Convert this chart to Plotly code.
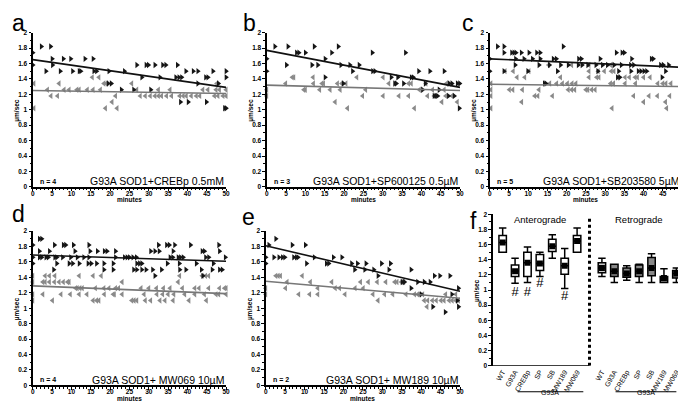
import plotly.graph_objects as go

W, H = 686, 401

# ---- scatter panels: velocity level (um/sec) -> list of minutes ----
a_ante = {1.82: [2.2, 4.6], 1.74: [0],
          1.66: [5.0, 7.9, 9.8, 13.5, 15.6],
          1.58: [0, 5.1, 26.9, 29.3, 29.9, 31.6, 33.6, 34.4, 37.4],
          1.50: [3.4, 7.1, 10.3, 12.0, 12.4, 15.8, 16.5, 19.7, 23.7, 39.6, 41.5, 42.7, 46.6, 50.0],
          1.42: [28.2, 32.9, 37.0, 37.8, 38.5, 44.7, 45.3, 50.0],
          1.34: [19.5, 20.3, 42.7, 48.0],
          1.26: [22.9, 26.1, 30.5],
          1.10: [38.2, 40.2, 44.9],
          1.02: [49.6, 50.0]}
a_retro = {1.42: [15.4, 17.1],
           1.34: [0.3, 6.8, 18.4, 19.0, 25.6, 47.6],
           1.26: [3.8, 8.1, 9.4, 11.4, 12.0, 14.1, 15.6, 17.5, 26.9, 32.5, 35.5, 44.0, 45.3, 47.4, 48.3, 50.0],
           1.18: [4.7, 6.4, 21.4, 27.8, 29.1, 30.4, 31.6, 32.5, 33.3, 34.6, 35.9, 38.0, 38.9, 39.7,
                  41.0, 42.3, 43.2, 47.0, 47.9, 49.2, 50.0],
           1.10: [20.5],
           1.02: [0.3, 18.8, 21.8]}
b_ante = {1.82: [2.1, 5.5, 12.3, 18.5],
          1.74: [7.7, 8.3, 10.0, 16.8, 27.3, 35.9],
          1.66: [0, 15.1],
          1.58: [5.1, 11.7, 13.2, 19.2, 21.5, 23.9],
          1.50: [0, 22.2, 27.4, 28.0, 39.3, 42.2, 45.9],
          1.42: [15.1, 32.2, 33.9, 37.4, 37.9],
          1.34: [19.8, 33.1, 33.5, 35.4, 41.0, 47.2, 47.9, 49.3, 49.9],
          1.26: [40.3, 44.6],
          1.18: [43.3, 43.8, 44.2, 47.0, 48.5],
          1.02: [49.8]}
b_retro = {1.42: [6.6, 7.0, 12.0, 23.3, 30.1],
           1.34: [4.9, 12.1, 14.3, 14.7, 18.3, 19.4, 20.5, 31.6, 36.7, 37.4, 41.2, 46.5],
           1.26: [0, 9.6, 10.0, 13.7, 16.4, 19.0, 25.6, 39.5, 42.9, 45.9],
           1.18: [0, 24.8, 30.1, 34.2, 36.7, 41.6, 43.3, 46.3, 47.9],
           1.10: [17.7, 45.3, 49.3],
           1.02: [20.9, 38.2]}
c_ante = {1.82: [2.0, 3.7, 19.1],
          1.74: [3.7, 5.7, 6.3, 6.8, 8.2, 10.2, 12.2, 13.1, 32.9, 34.4, 35.0],
          1.66: [0, 6.7, 8.9, 11.1, 13.1, 16.5, 17.3, 23.1, 23.8, 28.7, 36.9, 42.0, 42.5, 49.9],
          1.58: [6.6, 12.8, 15.5, 18.4, 20.4, 23.0, 24.0, 25.5, 27.6, 29.3, 30.6, 32.3, 34.2, 36.6,
                 37.4, 44.4, 45.1, 46.5],
          1.50: [0, 3.7, 9.9, 17.6, 28.1, 33.5, 36.7, 38.6, 39.3, 40.1, 40.8, 45.7, 49.5],
          1.42: [33.2, 33.8, 44.8],
          1.34: [14.2, 14.6]}
c_retro = {1.58: [15.3, 21.3, 25.8, 31.5],
           1.50: [4.0, 6.1, 10.2, 25.8, 28.2, 29.8, 31.6, 32.3],
           1.42: [7.1, 9.1, 18.4, 25.8, 27.8, 28.4, 33.5, 35.2, 36.3, 37.8, 38.4, 40.0, 41.7],
           1.34: [0.3, 15.6, 17.4, 18.9, 20.2, 21.4, 22.4, 31.4, 32.2, 35.2, 37.9, 43.7, 45.0, 45.8, 47.1],
           1.26: [0.3, 5.1, 6.0, 8.5, 12.8, 20.4, 21.3, 22.1, 25.0, 25.5, 26.5, 27.4],
           1.18: [0.3, 11.7, 12.5, 16.3, 37.4, 41.4, 43.6, 46.8, 49.9],
           1.10: [8.3, 40.0, 45.7],
           1.02: [0.3, 31.8, 46.0]}
d_ante = {1.90: [1.7, 2.3],
          1.82: [0, 5.6, 7.9, 8.5, 10.5, 14.5, 32.5, 34.6, 35.3, 36.7, 40.8, 48.1],
          1.74: [1.7, 4.3, 10.9, 14.8, 16.7, 18.5, 19.2, 21.4, 30.5, 31.6, 32.7, 36.3, 43.8, 44.4, 48.3],
          1.66: [0, 1.7, 2.3, 3.4, 4.0, 5.7, 6.2, 7.7, 9.8, 11.5, 13.2, 14.5, 21.4, 23.7, 24.4, 25.0,
                 25.9, 26.8, 35.5, 36.2, 37.6, 38.2, 38.9, 44.7, 45.5, 49.8],
          1.58: [0, 6.2, 9.4, 10.3, 12.0, 14.3, 15.1, 16.5, 18.4, 20.8, 26.9, 27.6, 28.2, 34.8, 37.9,
                 42.3, 46.7],
          1.50: [5.4, 18.4, 20.8, 26.1, 26.9, 28.2, 29.3, 31.0, 33.3, 38.0, 39.6, 43.6, 46.4, 48.3, 49.0],
          1.42: [31.6, 44.0]}
d_retro = {1.42: [0, 3.2, 4.3, 5.7, 12.0, 15.6, 17.7, 38.0, 43.8, 44.7, 45.5],
           1.34: [0, 2.6, 3.2, 4.3, 5.6, 6.8, 7.9, 9.0, 9.4, 23.1, 37.6],
           1.26: [11.1, 11.5, 12.2, 12.8, 16.2, 18.4, 19.7, 21.4, 22.2, 28.0, 30.0, 32.0, 33.8, 35.5,
                  38.7, 41.9, 43.0, 45.5, 48.3, 49.6, 50.0],
           1.18: [0, 2.6, 7.3, 9.7, 12.0, 14.0, 18.5, 20.8, 21.1, 23.1, 28.8, 32.1, 33.6, 35.0, 36.5,
                  39.3, 41.9, 44.4, 47.4, 48.1, 50.0],
           1.10: [0, 5.1, 15.6, 16.5, 17.1, 25.6, 26.2, 26.9, 29.1, 30.5, 32.9, 34.2, 36.3, 40.4, 44.9]}
e_ante = {1.90: [2.6],
          1.82: [0.8, 6.8, 10.2],
          1.66: [0, 2.1, 3.4, 4.3, 4.9, 7.2, 7.9, 8.3, 12.5, 17.4, 19.6],
          1.58: [0, 10.5, 15.6, 16.2, 22.1, 23.6, 25.8, 29.8, 32.1],
          1.50: [22.9, 25.5, 27.8, 31.7, 37.4],
          1.42: [28.9, 43.4, 44.8, 47.4],
          1.34: [35.1, 35.7, 39.1, 40.8, 42.3],
          1.26: [37.4, 49.6],
          1.18: [40.0, 47.9],
          1.10: [49.3],
          1.02: [43.0, 49.6],
          0.95: [46.2]}
e_retro = {1.42: [2.6, 3.2, 3.8, 9.4],
           1.34: [5.5, 11.5, 17.0, 24.4, 26.4, 28.7, 30.9, 33.2, 33.8, 34.9, 35.5],
           1.26: [0, 5.1, 13.4, 17.9, 19.0, 23.0, 25.1],
           1.18: [0, 8.5, 11.3, 13.4, 20.4, 27.6, 30.6, 32.7, 36.1, 38.3, 39.1, 39.5, 40.4, 46.3, 48.9],
           1.10: [28.9, 40.8, 41.7, 42.9, 43.9, 45.1, 45.9, 47.2, 48.0, 48.9, 49.6],
           1.02: [41.5]}

# regression lines (value at 0 and 50 min)
fit_minutes = [0, 50]
a_fit_ante, a_fit_retro = [1.65, 1.29], [1.25, 1.21]
b_fit_ante, b_fit_retro = [1.77, 1.29], [1.32, 1.25]
c_fit_ante, c_fit_retro = [1.66, 1.55], [1.33, 1.30]
d_fit_ante, d_fit_retro = [1.69, 1.61], [1.29, 1.19]
e_fit_ante, e_fit_retro = [1.81, 1.22], [1.35, 1.13]

panel_titles = ['G93A SOD1+CREBp 0.5mM', 'G93A SOD1+SP600125 0.5µM', 'G93A SOD1+SB203580 5µM',
                'G93A SOD1+ MW069 10µM', 'G93A SOD1+ MW189 10µM']
panel_n = ['n = 4', 'n = 3', 'n = 5', 'n = 4', 'n = 2']

# ---- panel f box summary ----
groups = ['WT', 'G93A', 'CREBp', 'SP', 'SB', 'MW189', 'MW069']
ante_low = [1.50, 1.09, 1.10, 1.18, 1.42, 1.02, 1.50]
ante_q1 = [1.50, 1.18, 1.18, 1.26, 1.51, 1.21, 1.50]
ante_med = [1.63, 1.25, 1.36, 1.35, 1.58, 1.32, 1.65]
ante_q3 = [1.72, 1.33, 1.50, 1.47, 1.67, 1.42, 1.72]
ante_high = [1.82, 1.42, 1.57, 1.50, 1.73, 1.55, 1.82]
retro_low = [1.18, 1.10, 1.13, 1.10, 1.10, 1.10, 1.10]
retro_q1 = [1.23, 1.18, 1.17, 1.18, 1.19, 1.10, 1.16]
retro_med = [1.29, 1.25, 1.22, 1.25, 1.29, 1.16, 1.22]
retro_q3 = [1.36, 1.34, 1.29, 1.33, 1.43, 1.18, 1.26]
retro_high = [1.42, 1.34, 1.32, 1.34, 1.48, 1.28, 1.29]
sig_groups = [1, 2, 3, 5]
sig_y = [0.97, 0.97, 1.08, 0.91]

ante_pos = list(range(7))
retro_pos = [p + 8 for p in range(7)]


def flat(d):
    xs, ys = [], []
    for v, mins in d.items():
        for m in mins:
            xs.append(m)
            ys.append(v)
    return xs, ys


def px(x):
    return x / W


def py(y):
    return 1 - y / H


fig = go.Figure()

scatter_panels = [
    (a_ante, a_retro, a_fit_ante, a_fit_retro),
    (b_ante, b_retro, b_fit_ante, b_fit_retro),
    (c_ante, c_retro, c_fit_ante, c_fit_retro),
    (d_ante, d_retro, d_fit_ante, d_fit_retro),
    (e_ante, e_retro, e_fit_ante, e_fit_retro),
]
# pixel boxes of plot areas: (left, right, top, bottom)
boxes = [(23, 218, 21, 178), (259, 454, 21, 178), (484, 678, 21, 178),
         (23, 218, 223, 380), (258, 454, 223, 380), (487, 683, 206, 360)]

for i, (ante, retro, fa, fr) in enumerate(scatter_panels):
    xa = 'x' if i == 0 else f'x{i+1}'
    ya = 'y' if i == 0 else f'y{i+1}'
    x, y = flat(retro)
    fig.add_trace(go.Scatter(x=x, y=y, mode='markers', xaxis=xa, yaxis=ya, cliponaxis=False,
                             marker=dict(symbol='triangle-left', size=5.5, color='#8a8a8a')))
    x, y = flat(ante)
    fig.add_trace(go.Scatter(x=x, y=y, mode='markers', xaxis=xa, yaxis=ya, cliponaxis=False,
                             marker=dict(symbol='triangle-right', size=5.5, color='#151515')))
    fig.add_trace(go.Scatter(x=fit_minutes, y=fr, mode='lines', xaxis=xa, yaxis=ya,
                             line=dict(color='#777777', width=1.6)))
    fig.add_trace(go.Scatter(x=fit_minutes, y=fa, mode='lines', xaxis=xa, yaxis=ya,
                             line=dict(color='#111111', width=1.6)))

# panel f boxes
fig.add_trace(go.Box(x=ante_pos, q1=ante_q1, median=ante_med, q3=ante_q3,
                     lowerfence=ante_low, upperfence=ante_high, xaxis='x6', yaxis='y6',
                     fillcolor='white', line=dict(color='black', width=1.5),
                     width=0.6, whiskerwidth=1, boxpoints=False))
fig.add_trace(go.Box(x=retro_pos[:1], q1=retro_q1[:1], median=retro_med[:1], q3=retro_q3[:1],
                     lowerfence=retro_low[:1], upperfence=retro_high[:1], xaxis='x6', yaxis='y6',
                     fillcolor='#c8c8c8', line=dict(color='black', width=1.5),
                     width=0.6, whiskerwidth=1, boxpoints=False))
fig.add_trace(go.Box(x=retro_pos[1:], q1=retro_q1[1:], median=retro_med[1:], q3=retro_q3[1:],
                     lowerfence=retro_low[1:], upperfence=retro_high[1:], xaxis='x6', yaxis='y6',
                     fillcolor='#888888', line=dict(color='black', width=1.5),
                     width=0.6, whiskerwidth=1, boxpoints=False))
fig.add_trace(go.Scatter(x=ante_pos + retro_pos, y=ante_med + retro_med, mode='markers',
                         xaxis='x6', yaxis='y6',
                         marker=dict(symbol='square', size=6, color='black')))
fig.add_trace(go.Scatter(x=sig_groups, y=sig_y, mode='text', text=['#'] * len(sig_groups),
                         xaxis='x6', yaxis='y6', cliponaxis=False,
                         textfont=dict(size=13, color='black', family='Liberation Sans')))

tickfont = dict(size=6.5, color='black', family='Liberation Sans', weight='bold')
layout = dict(width=W, height=H, margin=dict(l=0, r=0, t=0, b=0),
              paper_bgcolor='white', plot_bgcolor='white', showlegend=False,
              boxmode='overlay', font=dict(family='Liberation Sans', color='black'))

for i, (l, r, t, b) in enumerate(boxes):
    k = '' if i == 0 else str(i + 1)
    ax_common = dict(showgrid=False, zeroline=False, showline=True, linecolor='black',
                     linewidth=1.5, ticks='outside', ticklen=2.5, tickwidth=1.2,
                     tickcolor='black', tickfont=tickfont)
    yax = dict(ax_common, domain=[py(b), py(t)], range=[0, 2], dtick=0.2, tick0=0,
               anchor='x' + k, minor=dict(dtick=0.1, ticks='outside', ticklen=1.5, tickcolor='black'))
    if i < 5:
        xax = dict(ax_common, domain=[px(l), px(r)], range=[0, 50], dtick=5, tick0=0,
                   anchor='y' + k, ticklabelstandoff=-3,
                   minor=dict(dtick=1, ticks='outside', ticklen=1.5, tickcolor='black'))
    else:
        xax = dict(domain=[px(l), px(r)], range=[-0.8, 14.86], anchor='y' + k,
                   showgrid=False, zeroline=False, showline=False,
                   tickvals=ante_pos + retro_pos, ticktext=groups + groups, tickangle=-60,
                   ticks='', tickfont=dict(size=7, color='black', family='Liberation Sans'))
    layout['xaxis' + k] = xax
    layout['yaxis' + k] = yax

fig.update_layout(**layout)

ann = []
# panel letters
for letter, (x0, y0) in zip('abcdef', [(0, 11), (233, 11), (454, 11), (0, 206), (232, 209), (462, 213)]):
    ann.append(dict(text=letter, x=px(x0), y=py(y0), xref='paper', yref='paper',
                    xanchor='left', yanchor='middle', showarrow=False,
                    font=dict(size=23, color='black', family='Liberation Sans')))
# scatter panel texts
for i, (l, r, t, b) in enumerate(boxes[:5]):
    ann.append(dict(text=panel_titles[i], x=px(r), y=py(b - 5.5), xref='paper', yref='paper',
                    xanchor='right', yanchor='middle', showarrow=False,
                    font=dict(size=10.5, color='black', family='Liberation Sans')))
    ann.append(dict(text=panel_n[i], x=px(l + 5), y=py(b - 5.5), xref='paper', yref='paper',
                    xanchor='left', yanchor='middle', showarrow=False,
                    font=dict(size=7, color='black', family='Liberation Sans', weight='bold')))
    ann.append(dict(text='minutes', x=px((l + r) / 2), y=py(b + 13), xref='paper', yref='paper',
                    xanchor='center', yanchor='middle', showarrow=False, borderpad=0,
                    font=dict(size=6.5, color='black', family='Liberation Sans', weight='bold')))
for i, (l, r, t, b) in enumerate(boxes):
    ann.append(dict(text='µm/sec', x=px(l - 16), y=py((t + b) / 2), xref='paper', yref='paper',
                    textangle=-90, xanchor='center', yanchor='middle', showarrow=False,
                    font=dict(size=6.5, color='black', family='Liberation Sans', weight='bold')))
# panel f labels
ann.append(dict(text='Anterograde', x=3, y=1.93, xref='x6', yref='y6', showarrow=False,
                font=dict(size=9.5, color='black', family='Liberation Sans')))
ann.append(dict(text='Retrograde', x=11, y=1.93, xref='x6', yref='y6', showarrow=False,
                font=dict(size=9.5, color='black', family='Liberation Sans')))
ann.append(dict(text='G93A', x=3.8, y=py(393), xref='x6', yref='paper', showarrow=False,
                font=dict(size=7, color='black', family='Liberation Sans')))
ann.append(dict(text='G93A', x=11.55, y=py(393), xref='x6', yref='paper', showarrow=False,
                font=dict(size=7, color='black', family='Liberation Sans')))
fig.update_layout(annotations=ann)

shapes = [
    dict(type='line', xref='x6', yref='y6', x0=-0.8, x1=7.0, y0=0, y1=0,
         line=dict(color='black', width=1.5)),
    dict(type='line', xref='x6', yref='y6', x0=7, x1=7, y0=0, y1=1.98,
         line=dict(color='black', width=3, dash='dot')),
    dict(type='line', xref='x6', yref='paper', x0=1.2, x1=6.5, y0=py(386.5), y1=py(386.5),
         line=dict(color='black', width=1.2)),
    dict(type='line', xref='x6', yref='paper', x0=9.1, x1=14.0, y0=py(386.5), y1=py(386.5),
         line=dict(color='black', width=1.2)),
]
fig.update_layout(shapes=shapes)

fig.write_html("out.html")
